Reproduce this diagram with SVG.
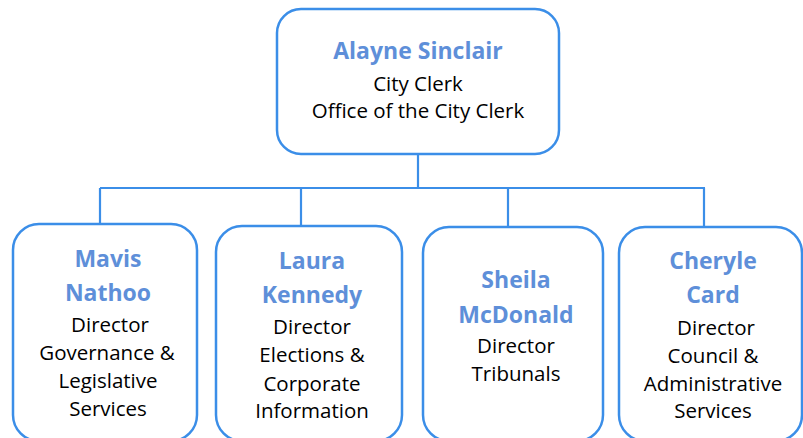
<svg xmlns="http://www.w3.org/2000/svg" width="803" height="438" viewBox="0 0 803 438">
<style>
.box{fill:#fff;stroke:#3b8ee8;stroke-width:2.5}
.con{fill:none;stroke:#3b8ee8;stroke-width:2.2}
.nm{font-family:"Open Sans",Lato,sans-serif;font-weight:bold;font-size:23px;fill:#5e8fd9;text-anchor:middle}
.tx{font-family:"Open Sans",Lato,sans-serif;font-size:20.5px;fill:#000;text-anchor:middle}
</style>
<rect width="803" height="438" fill="#fff"/>
<g id="connectors">
<path class="con" d="M418 154V188M100 188H705M100 188V224M301 188V226M508 188V227M704 188V227"/>
</g>
<g id="n-sinclair">
<rect class="box" x="277" y="9" width="282" height="145" rx="24"/>
<text class="nm" x="418" y="59">Alayne Sinclair</text>
<text class="tx" x="418" y="91">City Clerk</text>
<text class="tx" x="418" y="118">Office of the City Clerk</text>
</g>
<g id="n-nathoo">
<rect class="box" x="13" y="224" width="184" height="217" rx="26"/>
<text class="nm" x="108" y="267">Mavis</text>
<text class="nm" x="108" y="301">Nathoo</text>
<text class="tx" x="110" y="332">Director</text>
<text class="tx" x="107" y="360">Governance &amp;</text>
<text class="tx" x="108" y="388">Legislative</text>
<text class="tx" x="108" y="416">Services</text>
</g>
<g id="n-kennedy">
<rect class="box" x="216" y="226" width="186" height="215" rx="26"/>
<text class="nm" x="312" y="269">Laura</text>
<text class="nm" x="312" y="303">Kennedy</text>
<text class="tx" x="312" y="334">Director</text>
<text class="tx" x="312" y="362">Elections &amp;</text>
<text class="tx" x="312" y="391">Corporate</text>
<text class="tx" x="312" y="418">Information</text>
</g>
<g id="n-mcdonald">
<rect class="box" x="423" y="227" width="180" height="214" rx="26"/>
<text class="nm" x="516" y="288">Sheila</text>
<text class="nm" x="516" y="323">McDonald</text>
<text class="tx" x="516" y="353">Director</text>
<text class="tx" x="516" y="381">Tribunals</text>
</g>
<g id="n-card">
<rect class="box" x="619" y="227" width="183" height="214" rx="26"/>
<text class="nm" x="713" y="269">Cheryle</text>
<text class="nm" x="713" y="303">Card</text>
<text class="tx" x="716" y="335">Director</text>
<text class="tx" x="713" y="363">Council &amp;</text>
<text class="tx" x="713" y="391">Administrative</text>
<text class="tx" x="713" y="418">Services</text>
</g>
</svg>
